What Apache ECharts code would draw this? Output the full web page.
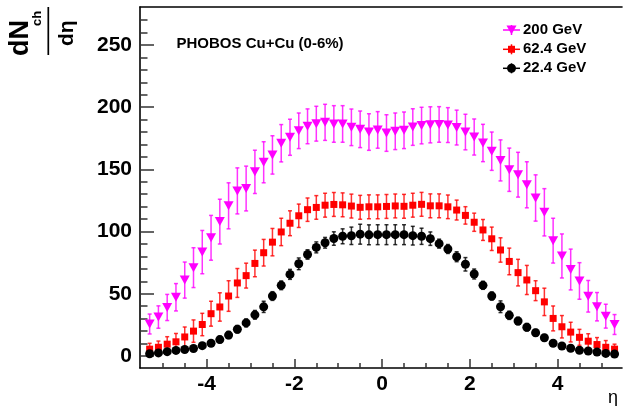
<!DOCTYPE html>
<html>
<head>
<meta charset="utf-8">
<script src="https://cdn.jsdelivr.net/npm/echarts@6/dist/echarts.min.js"></script>
<style>
html,body{margin:0;padding:0;background:#fff;}
#chart{width:623px;height:406px;}
</style>
</head>
<body>
<div id="chart"></div>
<script>
// ---- data ----
const eta = [-5.3,-5.1,-4.9,-4.7,-4.5,-4.3,-4.1,-3.9,-3.7,-3.5,
             -3.3,-3.1,-2.9,-2.7,-2.5,-2.3,-2.1,-1.9,-1.7,-1.5,
             -1.3,-1.1,-0.9,-0.7,-0.5,-0.3,-0.1,0.1,0.3,0.5,
             0.7,0.9,1.1,1.3,1.5,1.7,1.9,2.1,2.3,2.5,
             2.7,2.9,3.1,3.3,3.5,3.7,3.9,4.1,4.3,4.5,
             4.7,4.9,5.1,5.3];

const seriesNames = ['200 GeV', '62.4 GeV', '22.4 GeV'];

const v200 = [25.7,31.3,39,47.2,61,71,83.5,95,108,120.7,
              132.7,134.6,148,155.7,161.6,171,175.8,181,184.6,186.7,
              187.8,186.5,186.5,183.8,182.2,180,181.7,179.2,180.6,181.4,
              184,185.2,185.8,186.1,185.6,183.6,180,176,171.2,164.6,
              157.2,149.7,145.7,137.6,127,115.5,92.7,80.4,69.5,60.3,
              48,39.6,32,25.3];
const e200 = [8,9,10.5,11,14.5,16,17.4,18,18,18.5,
              18.5,18,17.4,16.5,15.4,15,14.5,14.3,14,14,
              14.5,14.7,14.7,14.7,14.7,14.7,14.7,14.7,14.7,14.7,
              14.7,14.7,14.5,14.3,14,14,14.3,14.5,15,15.4,
              16.5,17.4,18,18.5,18.6,19,18,17.7,16.4,14.7,
              12.7,11.4,9.6,8];

const v62 = [5.5,7,9.5,11.4,15.3,20,25.3,34,39.4,48.2,
             58.7,64.6,74.4,83,91.5,99.7,106.7,112.7,117.6,119.4,
             121.2,121.8,121.5,120.5,119.5,119.9,119.9,120.2,120.6,120.3,
             121.2,121.9,120.7,120.7,119.9,117.3,113,107.5,101.3,94.2,
             85.2,76,67,61.1,52.5,43.5,30.2,23.5,19.2,15,
             11.9,9.2,7,5.5];
const e62 = [4.7,5,6,6.7,8,9,9,10,11.4,12.3,
             11.6,10,10.7,10.7,11,11,10,9.4,9.4,9.5,
             9.6,9.6,9.6,9.6,9.6,9.6,9.6,9.6,9.6,9.6,
             9.6,9.6,9.6,9.6,9.5,8,7,7.3,8.4,9.4,
             9.8,10.7,10.7,11.7,8,11,10,9,7.9,6.4,
             6,5.6,5.4,4];

const v22 = [1.8,2.5,3.5,4.5,5.2,6,8.3,10.2,13.2,16.8,
             21.5,26.6,33.1,39.5,48.2,56.8,65.6,74.1,81.6,87.3,
             91,94.4,96.2,96.6,97.9,97.4,97.5,97.5,97.5,97.5,
             96.7,96.2,94.3,90.3,86,79.8,73.7,65.9,56.8,48.2,
             39.6,32.7,28.1,23.1,18.7,14.7,10.2,8,6.2,4.6,
             4,3.2,2.1,1.6];
const e22 = [1,1,1,1.2,1.5,1.5,1.8,2,2.5,2.8,
             3,3.2,3.5,4.5,3.5,3.5,4,4.7,3.8,4.4,
             4.3,5.4,6,7,8,8,8,8,8,8,
             7.5,6.5,5.4,3.6,3.6,4,5.4,4,3.2,3.3,
             4.7,3.3,3,3,2.7,2.5,2,1.5,1.5,1.2,
             1,1,1,1];

const yMajor = [0,50,100,150,200,250];
const yMinor = [10,20,30,40,60,70,80,90,110,120,130,140,160,170,180,190,210,220,230,240,260,270];
const xMajor = [-4,-2,0,2,4];
const xMinor = [-5,-4.5,-3.5,-3,-2.5,-1.5,-1,-0.5,0.5,1,1.5,2.5,3,3.5,4.5,5];

// ---- chart ----
const FONT = '"Liberation Sans", Arial, Helvetica, sans-serif';
const chart = echarts.init(document.getElementById('chart'), null, {renderer:'canvas'});

const XMIN = -5.52, XMAX = 5.47, YMIN = -9.65, YMAX = 280.5;

function errSeries(vals, errs, color, opacity) {
  return {
    type: 'custom',
    xAxisIndex: 0, yAxisIndex: 0,
    silent: true,
    z: 2,
    data: eta.map((x, i) => [x, vals[i], errs[i]]),
    renderItem: function (params, api) {
      const x = api.value(0), y = api.value(1), e = api.value(2);
      const t = api.coord([x, y + e]);
      const b = api.coord([x, y - e]);
      const st = {stroke: color, lineWidth: 1.5, opacity: opacity};
      const cap = 2;
      return {
        type: 'group',
        children: [
          {type: 'line', shape: {x1: t[0], y1: t[1], x2: b[0], y2: b[1]}, style: st},
          {type: 'line', shape: {x1: t[0]-cap, y1: t[1], x2: t[0]+cap, y2: t[1]}, style: st},
          {type: 'line', shape: {x1: b[0]-cap, y1: b[1], x2: b[0]+cap, y2: b[1]}, style: st}
        ]
      };
    }
  };
}

function pointSeries(name, vals, color, symbol, size, rot) {
  return {
    type: 'scatter',
    name: name,
    xAxisIndex: 0, yAxisIndex: 0,
    z: 3,
    symbol: symbol,
    symbolSize: size,
    symbolRotate: rot || 0,
    itemStyle: {color: color, opacity: 1},
    data: eta.map((x, i) => [x, vals[i]])
  };
}

const axisLineStyle = {color: '#000', width: 1.6};

// legend graphic
const legendRows = [
  {y: 30, color: '#ff00ff', kind: 'tri'},
  {y: 49.3, color: '#ff0000', kind: 'sq'},
  {y: 68.3, color: '#000000', kind: 'circ'}
];
const graphics = [];
legendRows.forEach((r, i) => {
  const cx = 511.5;
  graphics.push({type: 'line', shape: {x1: 503, y1: r.y, x2: 520, y2: r.y}, style: {stroke: r.color, lineWidth: 1.5}});
  graphics.push({type: 'line', shape: {x1: cx, y1: r.y - 5, x2: cx, y2: r.y + 5}, style: {stroke: r.color, lineWidth: 1.5}});
  if (r.kind === 'tri') {
    graphics.push({type: 'polygon', shape: {points: [[cx-5, r.y-4.5],[cx+5, r.y-4.5],[cx, r.y+4.5]]}, style: {fill: r.color}});
  } else if (r.kind === 'sq') {
    graphics.push({type: 'rect', shape: {x: cx-3.5, y: r.y-3.5, width: 7, height: 7}, style: {fill: r.color}});
  } else {
    graphics.push({type: 'circle', shape: {cx: cx, cy: r.y, r: 4.5}, style: {fill: r.color}});
  }
  graphics.push({type: 'text', x: 523, y: r.y, style: {text: seriesNames[i], font: 'bold 15px ' + FONT, fill: '#000', textAlign: 'left', textVerticalAlign: 'middle', verticalAlign: 'middle'}});
});
// label
graphics.push({type: 'text', x: 176.5, y: 43.5, style: {text: 'PHOBOS Cu+Cu (0-6%)', font: 'bold 15px ' + FONT, fill: '#000', textAlign: 'left', textVerticalAlign: 'middle', verticalAlign: 'middle'}});
// y title: dN_ch / dη, rotated
graphics.push({type: 'text', x: 20.5, y: 56, rotation: Math.PI/2, style: {text: 'dN', font: 'bold 27px ' + FONT, fill: '#000', textAlign: 'left', textVerticalAlign: 'middle', verticalAlign: 'middle'}});
graphics.push({type: 'text', x: 37.7, y: 26, rotation: Math.PI/2, style: {text: 'ch', font: 'bold 13px ' + FONT, fill: '#000', textAlign: 'left', textVerticalAlign: 'middle', verticalAlign: 'middle'}});
graphics.push({type: 'line', shape: {x1: 48.3, y1: 7, x2: 48.3, y2: 55}, style: {stroke: '#000', lineWidth: 1.7}});
graphics.push({type: 'text', x: 67, y: 46, rotation: Math.PI/2, style: {text: 'dη', font: 'bold 21px ' + FONT, fill: '#000', textAlign: 'left', textVerticalAlign: 'middle', verticalAlign: 'middle'}});
// x title
graphics.push({type: 'text', x: 613, y: 398, style: {text: 'η', font: '18px ' + FONT, fill: '#000', textAlign: 'center', textVerticalAlign: 'middle', verticalAlign: 'middle'}});

const option = {
  animation: false,
  backgroundColor: '#fff',
  grid: {left: 140, top: 7, right: 1, bottom: 38, containLabel: false},
  xAxis: [
    {
      type: 'value', position: 'bottom', min: XMIN, max: XMAX,
      axisLine: {show: true, onZero: false, lineStyle: axisLineStyle},
      axisTick: {show: true, inside: true, length: 9, customValues: xMajor, lineStyle: {color: '#333', width: 1.5}},
      axisLabel: {show: true, customValues: xMajor, margin: 6, color: '#000', fontFamily: FONT, fontWeight: 'bold', fontSize: 21,
                  formatter: v => String(v)},
      splitLine: {show: false}
    },
    {
      type: 'value', position: 'bottom', min: XMIN, max: XMAX,
      axisLine: {show: false, onZero: false},
      axisTick: {show: true, inside: true, length: 5, customValues: xMinor, lineStyle: {color: '#333', width: 1.5}},
      axisLabel: {show: false},
      splitLine: {show: false}
    },
    {
      type: 'value', position: 'top', min: XMIN, max: XMAX,
      axisLine: {show: true, onZero: false, lineStyle: axisLineStyle},
      axisTick: {show: false}, axisLabel: {show: false}, splitLine: {show: false}
    }
  ],
  yAxis: [
    {
      type: 'value', position: 'left', min: YMIN, max: YMAX,
      axisLine: {show: true, onZero: false, lineStyle: axisLineStyle},
      axisTick: {show: true, inside: true, length: 14, customValues: yMajor, lineStyle: {color: '#333', width: 1.5}},
      axisLabel: {show: true, customValues: yMajor, margin: 8, color: '#000', fontFamily: FONT, fontWeight: 'bold', fontSize: 21},
      splitLine: {show: false}
    },
    {
      type: 'value', position: 'left', min: YMIN, max: YMAX,
      axisLine: {show: false, onZero: false},
      axisTick: {show: true, inside: true, length: 7.5, customValues: yMinor, lineStyle: {color: '#333', width: 1.5}},
      axisLabel: {show: false},
      splitLine: {show: false}
    }
  ],
  series: [
    errSeries(v200, e200, '#ff00ff', 0.8),
    errSeries(v62, e62, '#ff0000', 0.8),
    errSeries(v22, e22, '#000000', 0.8),
    pointSeries(seriesNames[0], v200, '#ff00ff', 'triangle', [10, 9], 180),
    pointSeries(seriesNames[1], v62, '#ff0000', 'rect', 7),
    pointSeries(seriesNames[2], v22, '#000000', 'circle', 9)
  ],
  graphic: graphics
};
chart.setOption(option);
</script>
</body>
</html>
